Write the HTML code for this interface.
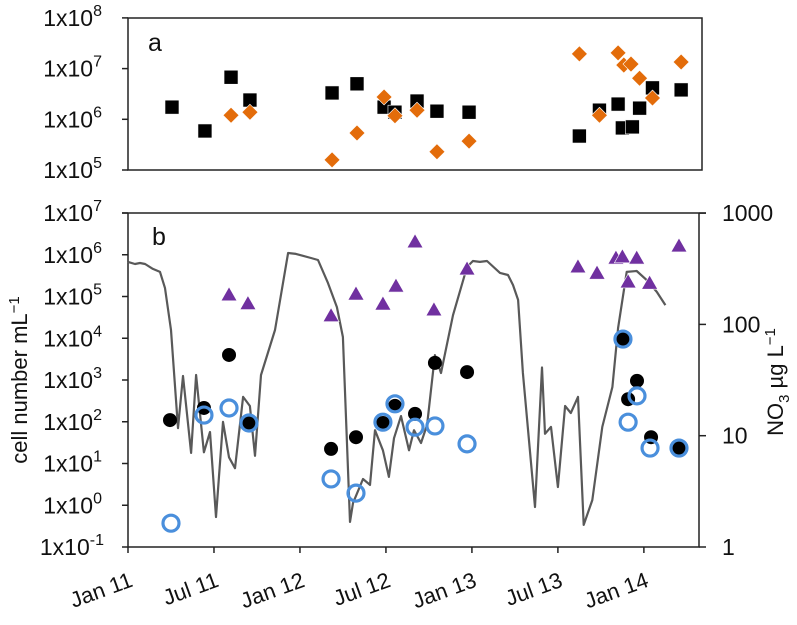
<!DOCTYPE html>
<html><head><meta charset="utf-8"><style>
body{margin:0;background:#fff;}
svg{display:block;font-family:"Liberation Sans",sans-serif;}
</style></head><body>
<svg id="chart" width="797" height="625" viewBox="0 0 797 625">
<g id="axes"></g><g id="line"></g><g id="marks"></g>
</svg>
<script>
// ---- data (time in months since Jan 2011) ----
const aBlackT=[3.07,5.37,7.19,8.51,14.24,15.98,17.87,18.63,20.17,21.56,23.8,31.5,32.9,34.2,34.5,35.2,35.7,36.6,38.6];
const aBlackLog=[6.24,5.77,6.83,6.38,6.52,6.70,6.24,6.14,6.36,6.16,6.14,5.67,6.18,6.30,5.83,5.85,6.22,6.62,6.58];
const aOrangeT=[7.19,8.51,14.24,15.98,17.87,18.63,20.17,21.56,23.8,31.5,32.9,34.2,34.6,35.1,35.7,36.6,38.6];
const aOrangeLog=[6.08,6.14,5.20,5.73,6.44,6.07,6.18,5.36,5.57,7.29,6.08,7.31,7.07,7.09,6.81,6.42,7.13];
const triT=[7.05,8.37,14.17,15.91,17.79,18.70,20.03,21.35,23.66,31.4,32.73,34.05,34.5,35.5,34.9,36.4,38.45];
const triLog=[5.04,4.83,4.54,5.06,4.82,5.25,6.31,4.68,5.66,5.71,5.56,5.92,5.95,5.92,5.35,5.32,6.21];
const blackT=[2.93,5.30,7.05,8.44,14.17,15.91,17.79,18.63,20.03,21.42,23.66,34.54,35.52,34.9,36.5,38.45];
const blackLog=[2.04,2.33,3.60,1.97,1.35,1.63,1.97,2.38,2.19,3.41,3.19,3.98,2.98,2.54,1.63,1.37];
const blueT=[3.0,5.30,7.05,8.44,14.17,15.91,17.79,18.63,20.03,21.42,23.66,34.54,34.9,35.52,36.43,38.45];
const blueLog=[-0.43,2.16,2.33,1.97,0.63,0.29,1.99,2.43,1.87,1.90,1.47,3.98,1.99,2.62,1.37,1.37];
const no3T=[0,0.49,0.84,1.19,1.74,2.23,2.58,3.0,3.49,3.84,4.40,4.75,5.30,5.72,6.14,6.63,7.05,7.47,8.03,8.51,8.86,9.28,10.26,11.17,11.72,12.77,13.26,13.96,14.58,15.0,15.49,15.70,16.40,16.89,17.24,17.79,18.21,18.56,19.05,19.61,19.96,20.45,20.87,21.42,21.84,22.68,23.66,24.07,24.56,25.05,25.96,26.52,26.87,27.22,27.56,28.4,28.89,29.1,29.52,30.0,30.5,30.9,31.4,31.8,32.4,33.1,33.8,34.2,34.8,35.5,36.2,36.9,37.5];
const no3V=[364,349,356,349,315,296,212,89,11.7,34.4,7.0,35.1,7.1,10.8,1.86,13.3,6.4,5.1,22.3,18.5,6.6,35.1,89,438,430,395,379,235,143,77,1.68,2.48,4.08,3.61,11.2,7.4,4.26,9.5,15.0,7.4,11.2,8.6,12.5,53,36.6,121,328,371,364,371,290,278,226,166,36.6,2.29,41,10.4,12.0,3.46,18.5,16.0,22.3,1.58,2.64,12.0,27.4,93,296,302,250,196,149];
const xTickLabels=["Jan 11","Jul 11","Jan 12","Jul 12","Jan 13","Jul 13","Jan 14"];
const aTickExp=["8","7","6","5"];
const bTickExp=["7","6","5","4","3","2","1","0","-1"];
const rTickLabels=["1000","100","10","1"];

// ---- axis functions ----
const X=m=>128+m*14.33;
const YA=l=>170-(l-5)*50.7;
const YB=l=>547-(l+1)*41.75;
const YR=v=>547-Math.log10(v)*111.3;
const NS="http://www.w3.org/2000/svg";
function mk(tag,attrs,parent,text){const e=document.createElementNS(NS,tag);for(const k in attrs)e.setAttribute(k,attrs[k]);if(text!=null)e.textContent=text;document.getElementById(parent).appendChild(e);return e;}

let e;
e=mk("rect",{x:128,y:18,width:574,height:152,fill:"none",stroke:"#222","stroke-width":1.5},"axes");


e=mk("path",{d:"M122 213H706M128 213V547H699V213",fill:"none",stroke:"#222","stroke-width":1.5},"axes");


e=mk("text",{x:148,y:51,"font-size":25,fill:"#111"},"axes","a");


e=mk("text",{x:152,y:245,"font-size":25,fill:"#111"},"axes","b");



aTickExp.forEach((s,i)=>{const y=YA(8-i);
 mk("line",{x1:122,x2:128,y1:y,y2:y,stroke:"#222","stroke-width":1.5},"axes");
 const t=mk("text",{x:102,y:y+8,"font-size":23,"text-anchor":"end",fill:"#111"},"axes");
 
 
 t.innerHTML='1x10<tspan dy="-10" font-size="16">'+s+'</tspan>';
});
bTickExp.forEach((s,i)=>{const y=YB(7-i);
 mk("line",{x1:122,x2:128,y1:y,y2:y,stroke:"#222","stroke-width":1.5},"axes");
 const t=mk("text",{x:s.length>1?104:102,y:y+8,"font-size":23,"text-anchor":"end",fill:"#111"},"axes");
 
 
 t.innerHTML='1x10<tspan dy="-10" font-size="16">'+s+'</tspan>';
});
rTickLabels.forEach((s,i)=>{const y=YR(Math.pow(10,3-i));
 mk("line",{x1:699,x2:706,y1:y,y2:y,stroke:"#222","stroke-width":1.5},"axes");
 const t=mk("text",{x:722,y:y+8,"font-size":23,fill:"#111"},"axes",s);
 
 
});
xTickLabels.forEach((s,i)=>{const x=X(i*6);
 mk("line",{x1:x,x2:x,y1:547,y2:553,stroke:"#222","stroke-width":1.5},"axes");
 const t=mk("text",{x:0,y:0,"font-size":22,"text-anchor":"end",fill:"#111",transform:"translate("+(x+6)+",586) rotate(-20)"},"axes",s);
 
 
});
e=mk("text",{x:0,y:0,"font-size":22,"text-anchor":"middle",fill:"#111",transform:"translate(27,380) rotate(-90)"},"axes");


e.innerHTML='cell number mL<tspan dy="-8" font-size="15">−1</tspan>';
e=mk("text",{x:0,y:0,"font-size":22,"text-anchor":"middle",fill:"#111",transform:"translate(783,382) rotate(-90)"},"axes");


e.innerHTML='NO<tspan dy="6" font-size="15">3</tspan><tspan dy="-6"> µg L</tspan><tspan dy="-8" font-size="15">−1</tspan>';

let d=no3T.map((t,i)=>(i?"L":"M")+X(t).toFixed(1)+" "+YR(no3V[i]).toFixed(1)).join("");
e=mk("path",{d:d,fill:"none",stroke:"#595959","stroke-width":2.2,"stroke-linejoin":"round"},"line");



aBlackT.forEach((t,i)=>{const x=X(t),y=YA(aBlackLog[i]);
 const r=mk("rect",{x:x-7,y:y-7,width:14,height:14,fill:"#000",stroke:"#fff","stroke-width":0.6},"marks");
 
 
});
aOrangeT.forEach((t,i)=>{const x=X(t),y=YA(aOrangeLog[i]);
 const p=mk("path",{d:`M${x} ${y-8}L${x+8} ${y}L${x} ${y+8}L${x-8} ${y}Z`,fill:"#e36c0a",stroke:"#fff","stroke-width":0.6},"marks");
 
 
});
triT.forEach((t,i)=>{const x=X(t),y=YB(triLog[i]);
 const p=mk("path",{d:`M${x} ${y-8}L${x+8} ${y+6}L${x-8} ${y+6}Z`,fill:"#7030a0",stroke:"#fff","stroke-width":0.6},"marks");
 
 
});
blackT.forEach((t,i)=>{
 const c=mk("circle",{cx:X(t),cy:YB(blackLog[i]),r:7,fill:"#000"},"marks");
 
 
});
blueT.forEach((t,i)=>{
 const c=mk("circle",{cx:X(t),cy:YB(blueLog[i]),r:8,fill:"none",stroke:"#4a8fdc","stroke-width":3.2},"marks");
 
 
});
</script>
</body></html>
